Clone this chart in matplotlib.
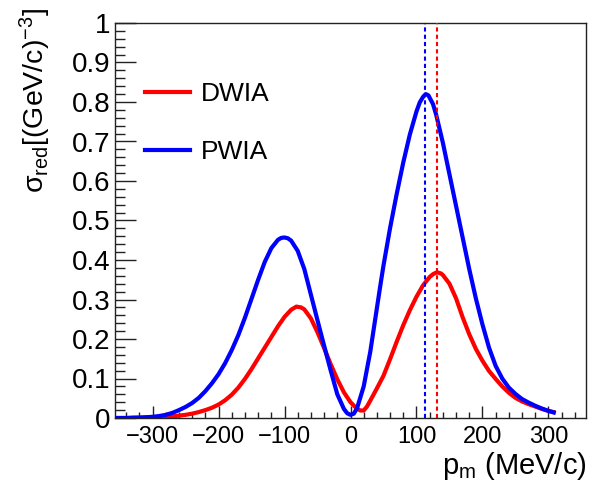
import numpy as np
import matplotlib
matplotlib.use('Agg')
import matplotlib.pyplot as plt
from matplotlib.ticker import MultipleLocator, FormatStrFormatter

plt.rcParams['font.family'] = ['Liberation Sans', 'DejaVu Sans']
plt.rcParams['mathtext.fontset'] = 'custom'
plt.rcParams['mathtext.rm'] = 'Liberation Sans'
plt.rcParams['mathtext.it'] = 'Liberation Sans:italic'

# PWIA (blue)
pm_pwia = [-357, -350, -340, -330, -320, -310, -300, -290, -280, -270, -260,
           -250, -240, -230, -220, -210, -200, -190, -180, -170, -160, -150,
           -140, -130, -120, -110, -105, -100, -95, -90, -80, -70, -60, -50,
           -40, -30, -20, -10, -5, 0, 5, 10, 20, 30, 40, 45, 50, 60, 70, 80,
           90, 100, 105, 110, 114, 118, 125, 130, 140, 150, 160, 170, 180,
           190, 200, 210, 220, 230, 240, 250, 260, 270, 280, 290, 300, 308]
sig_pwia = [0.000, 0.000, 0.000, 0.001, 0.001, 0.002, 0.003, 0.005, 0.008,
            0.013, 0.020, 0.028, 0.038, 0.051, 0.068, 0.088, 0.111, 0.139,
            0.172, 0.210, 0.254, 0.302, 0.350, 0.395, 0.430, 0.451, 0.456,
            0.457, 0.455, 0.449, 0.423, 0.377, 0.312, 0.247, 0.183, 0.120,
            0.060, 0.023, 0.012, 0.008, 0.011, 0.025, 0.080, 0.168, 0.278,
            0.333, 0.386, 0.481, 0.567, 0.647, 0.718, 0.776, 0.799, 0.813,
            0.820, 0.817, 0.795, 0.767, 0.697, 0.617, 0.537, 0.457, 0.377,
            0.303, 0.237, 0.178, 0.132, 0.100, 0.077, 0.061, 0.048, 0.039,
            0.031, 0.024, 0.018, 0.014]

# DWIA (red)
pm_dwia = [-357, -350, -340, -330, -320, -310, -300, -290, -280, -270, -260,
           -250, -240, -230, -220, -210, -200, -190, -180, -170, -160, -150,
           -140, -130, -120, -110, -100, -90, -82, -75, -70, -60, -50, -40,
           -30, -20, -10, 0, 10, 15, 20, 25, 30, 40, 50, 60, 70, 80, 90, 100,
           110, 120, 125, 131, 137, 140, 150, 160, 170, 180, 190, 200, 210,
           220, 230, 240, 250, 260, 270, 280, 290, 300, 308]
sig_dwia = [0.000, 0.000, 0.000, 0.000, 0.001, 0.001, 0.002, 0.002, 0.003,
            0.004, 0.006, 0.008, 0.011, 0.015, 0.020, 0.026, 0.034, 0.045,
            0.059, 0.077, 0.099, 0.124, 0.151, 0.178, 0.205, 0.232, 0.256,
            0.274, 0.282, 0.280, 0.275, 0.252, 0.217, 0.177, 0.136, 0.098,
            0.065, 0.040, 0.023, 0.019, 0.019, 0.029, 0.044, 0.075, 0.107,
            0.149, 0.193, 0.235, 0.273, 0.307, 0.336, 0.357, 0.364, 0.369,
            0.366, 0.362, 0.340, 0.303, 0.255, 0.212, 0.175, 0.145, 0.119,
            0.099, 0.080, 0.064, 0.051, 0.042, 0.035, 0.029, 0.023, 0.018,
            0.015]

peak_pwia = 113
peak_dwia = 131

fig = plt.figure(figsize=(6.03, 4.90), dpi=100)
ax = fig.add_axes([115 / 603, 72 / 490, 471 / 603, 395 / 490])

ax.plot(pm_dwia, sig_dwia, color='#ff0000', lw=3, label='DWIA', zorder=2)
ax.plot(pm_pwia, sig_pwia, color='#0000ff', lw=3, label='PWIA', zorder=3)
ax.axvline(peak_pwia, color='#0000ff', lw=1.5, dashes=(2, 1.5), zorder=4)
ax.axvline(peak_dwia, color='#ff0000', lw=1.5, dashes=(2, 1.5), zorder=4)

ax.set_xlim(-357, 357)
ax.set_ylim(0, 1)
ax.xaxis.set_major_locator(MultipleLocator(100))
ax.xaxis.set_minor_locator(MultipleLocator(20))
ax.yaxis.set_major_locator(MultipleLocator(0.1))
ax.yaxis.set_minor_locator(MultipleLocator(0.02))
ax.yaxis.set_major_formatter(FormatStrFormatter('%g'))

ax.tick_params(which='both', direction='in', top=False, right=False, width=1, color='#222222')
ax.tick_params(axis='y', which='major', length=15, labelsize=20, pad=3)
ax.tick_params(axis='y', which='minor', length=7.5)
ax.tick_params(axis='x', which='major', length=9, labelsize=17, pad=6)
ax.tick_params(axis='x', which='minor', length=4.5)
for s in ax.spines.values():
    s.set_linewidth(1)
    s.set_color('#222222')

ax.legend(loc='upper left', bbox_to_anchor=(145 / 603, 1 - 82 / 490), bbox_transform=fig.transFigure,
          frameon=False, fontsize=19, handlelength=1.7, handletextpad=0.4,
          labelspacing=1.3, borderpad=0, borderaxespad=0)

fig.text(587 / 603, 16 / 490, r'p$_{\mathregular{m}}$ (MeV/c)', fontsize=21, ha='right', va='baseline')
fig.text(35 / 603, 1 - 8 / 490, r'σ$_{\mathregular{red}}$[(GeV/c)$^{\mathregular{-3}}$]',
         fontsize=20.5, rotation=90, ha='center', va='top')

fig.savefig('out.png', dpi=100)
